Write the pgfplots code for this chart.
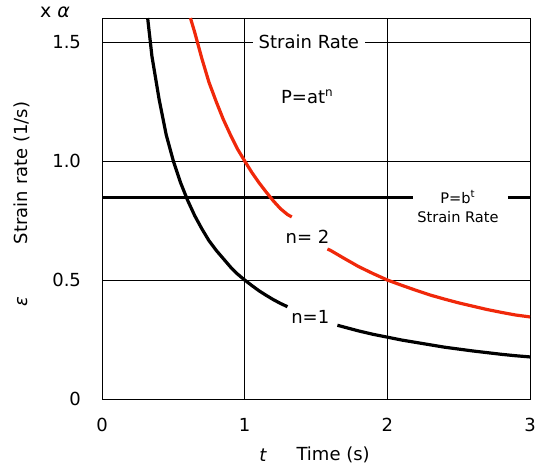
\documentclass[border=0pt]{standalone}
\usepackage{pgfplots}
\pgfplotsset{compat=1.18}
\usepackage{fontspec}
\setmainfont{DejaVu Sans}
\definecolor{curvered}{HTML}{F0280A}

\begin{document}
\begin{tikzpicture}
\begin{axis}[
    scale only axis,
    width=214pt, height=190.5pt,
    xmin=0, xmax=3, ymin=0, ymax=1.6,
    xtick={0,1,2,3}, xticklabels={0,1,2,3},
    ytick={0,0.5,1,1.5}, yticklabels={0,0.5,1.0,1.5},
    major tick length=0pt,
    grid=major,
    grid style={black, line width=0.4pt},
    axis line style={line width=0.5pt},
    tick label style={font=\fontsize{9}{11}\selectfont},
    yticklabel style={xshift=-7pt},
    xticklabel style={yshift=-6pt},
    font=\fontsize{9}{11}\selectfont,
    clip=false,
    unbounded coords=jump,
]

% horizontal line (P = b^t)
\addplot[black, line width=1.5pt] coordinates {
    (0,0.845)(2.18,0.845) (2.5,nan) (2.845,0.845)(3,0.845)
};

% n = 1 (black)
\addplot[black, line width=1.6pt] coordinates {
    (0.32,1.60)(0.35,1.44)(0.40,1.26)(0.45,1.11)(0.50,1.00)(0.55,0.91)
    (0.60,0.835)(0.65,0.77)(0.70,0.715)(0.75,0.665)(0.80,0.625)(0.85,0.59)
    (0.90,0.555)(0.95,0.525)(1.00,0.50)(1.05,0.477)(1.10,0.455)(1.15,0.436)
    (1.20,0.418)(1.25,0.402)(1.30,0.388)
    (1.5,nan)
    (1.65,0.31)(1.70,0.302)(1.80,0.286)(1.90,0.272)(2.00,0.26)(2.10,0.248)
    (2.20,0.238)(2.30,0.228)(2.40,0.218)(2.50,0.21)(2.60,0.202)(2.70,0.195)
    (2.80,0.188)(2.90,0.182)(3.00,0.177)
};

% n = 2 (red)
\addplot[curvered, line width=1.6pt] coordinates {
    (0.62,1.60)(0.65,1.54)(0.70,1.43)(0.75,1.33)(0.80,1.25)(0.85,1.175)
    (0.90,1.11)(0.95,1.05)(1.00,1.00)(1.05,0.952)(1.10,0.909)(1.15,0.87)
    (1.20,0.833)(1.25,0.80)(1.30,0.775)(1.33,0.765)
    (1.45,nan)
    (1.58,0.63)(1.60,0.625)(1.70,0.59)(1.80,0.556)(1.90,0.527)(2.00,0.50)
    (2.10,0.478)(2.20,0.457)(2.30,0.437)(2.40,0.42)(2.50,0.404)(2.60,0.39)
    (2.70,0.376)(2.80,0.364)(2.90,0.353)(3.00,0.345)
};

\node[fill=white, inner sep=3pt] at (axis cs:1.45,1.5) {Strain Rate};
\node at (axis cs:1.44,1.27) {P=at\textsuperscript{n}};
\node[align=center, font=\fontsize{7.3}{9.5}\selectfont] at (axis cs:2.495,0.81) {P=b\textsuperscript{t}\\Strain Rate};
\node at (axis cs:1.44,0.683) {n= 2};
\node at (axis cs:1.46,0.346) {n=1};
\node[rotate=90] at (axis cs:-0.56,0.95) {Strain rate (1/s)};
\node[rotate=90] at (axis cs:-0.56,0.41) {\textit{ε}};
\node[font=\fontsize{9.5}{11}\selectfont] at (axis cs:-0.33,1.625) {x \textit{α}};
\node at (axis cs:1.13,-0.236) {\textit{t}};
\node at (axis cs:1.62,-0.236) {Time (s)};

\coordinate (bl) at (axis cs:-0.715,-0.302);
\coordinate (tr) at (axis cs:3.049,1.676);
\end{axis}
\pgfresetboundingbox
\path (bl) rectangle (tr);
\end{tikzpicture}
\end{document}
